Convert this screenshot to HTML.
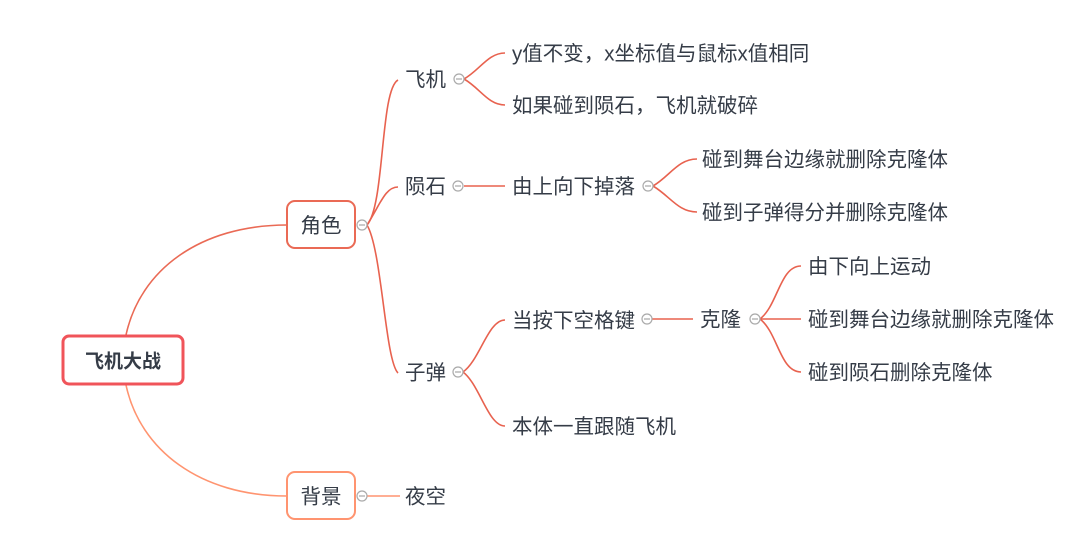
<!DOCTYPE html>
<html><head><meta charset="utf-8"><style>
html,body{margin:0;padding:0;background:#fff;}
svg{display:block;}
text{font-family:"Liberation Sans","Noto Sans CJK SC",sans-serif;font-size:20.5px;fill:#353c47;dominant-baseline:central;}
</style></head><body>
<svg width="1080" height="543" viewBox="0 0 1080 543" xmlns="http://www.w3.org/2000/svg">
<g fill="none" stroke-width="1.6">
<path d="M126 335 C140 270 200 225 287 225" stroke="#ea6a55"/>
<path d="M126 385 C140 450 200 496 287 496" stroke="#ff9470"/>
<g stroke="#e8624f">
<path d="M367 225 C385 205 380 90 398 80"/>
<path d="M367 225 C380 205 385 187 398 187"/>
<path d="M367 225 C382 250 385 360 398 373"/>
<path d="M464 79 C480 70 488 53 505 53"/>
<path d="M464 79 C480 88 488 105 505 105"/>
<path d="M464 186 L505 186"/>
<path d="M653 186 C670 176 678 159 697 159"/>
<path d="M653 186 C670 196 678 212 697 212"/>
<path d="M463 372 C480 360 488 320 505 320"/>
<path d="M463 372 C480 385 488 426 505 426"/>
<path d="M652 319 L693 319"/>
<path d="M760 319 C778 305 780 266 801 266"/>
<path d="M760 319 L801 319"/>
<path d="M760 319 C778 333 780 372 801 372"/>
</g>
<path d="M367 496 L400 496" stroke="#ff9470"/>
</g>
<rect x="63" y="336" width="120" height="48" rx="6" fill="#fff" stroke="#f0545a" stroke-width="3"/>
<text x="123" y="362" text-anchor="middle" style="font-weight:bold;font-size:19px" fill="#2a2f3a">飞机大战</text>
<rect x="287" y="201" width="68" height="47" rx="8" fill="#fff" stroke="#ea6a55" stroke-width="2"/>
<text x="321" y="226" text-anchor="middle">角色</text>
<rect x="287" y="472" width="68" height="47" rx="8" fill="#fff" stroke="#ff9470" stroke-width="2"/>
<text x="321" y="497" text-anchor="middle">背景</text>
<g fill="#fff" stroke="#aaa" stroke-width="1.2">
<circle cx="362" cy="225" r="5"/><circle cx="362" cy="496" r="5"/>
<circle cx="459" cy="79" r="5"/><circle cx="458" cy="186" r="5"/><circle cx="458" cy="372" r="5"/>
<circle cx="648" cy="186" r="5"/><circle cx="647" cy="319" r="5"/><circle cx="755" cy="319" r="5"/>
</g>
<g stroke="#aaa" stroke-width="1.2">
<path d="M359 225h6M359 496h6M456 79h6M455 186h6M455 372h6M645 186h6M644 319h6M752 319h6"/>
</g>
<text x="405" y="80">飞机</text>
<text x="405" y="187">陨石</text>
<text x="405" y="373">子弹</text>
<text x="405" y="497">夜空</text>
<text x="512" y="54">y值不变，x坐标值与鼠标x值相同</text>
<text x="512" y="106">如果碰到陨石，飞机就破碎</text>
<text x="512" y="187">由上向下掉落</text>
<text x="702" y="160">碰到舞台边缘就删除克隆体</text>
<text x="702" y="213">碰到子弹得分并删除克隆体</text>
<text x="512" y="321">当按下空格键</text>
<text x="512" y="427">本体一直跟随飞机</text>
<text x="700" y="320">克隆</text>
<text x="808" y="267">由下向上运动</text>
<text x="808" y="320">碰到舞台边缘就删除克隆体</text>
<text x="808" y="373">碰到陨石删除克隆体</text>
</svg>
</body></html>
